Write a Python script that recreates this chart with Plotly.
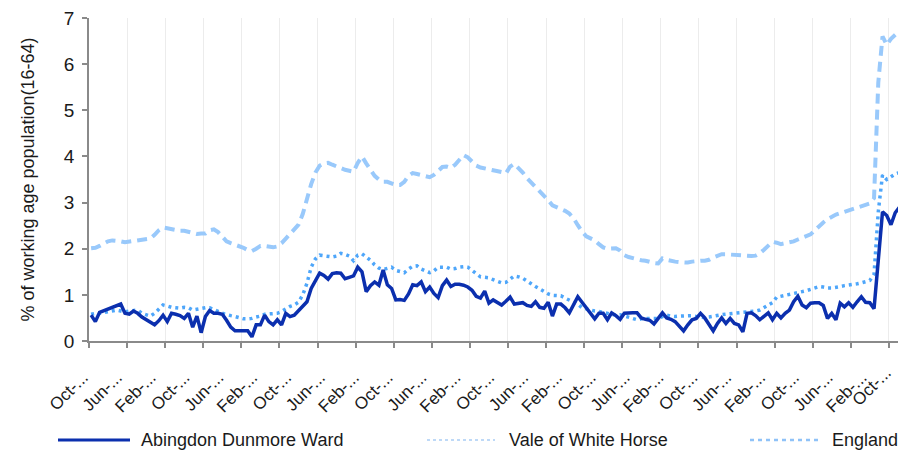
import plotly.graph_objects as go

# monthly claimant rate, Oct 2004 onwards (% of working age population)
abingdon = [
    0.56, 0.42, 0.62, 0.66, 0.69, 0.72, 0.77, 0.80, 0.60, 0.58,
    0.65, 0.60, 0.52, 0.46, 0.42, 0.35, 0.44, 0.56, 0.42, 0.60,
    0.58, 0.55, 0.49, 0.60, 0.30, 0.54, 0.18, 0.53, 0.66, 0.60,
    0.60, 0.58, 0.45, 0.30, 0.22, 0.22, 0.23, 0.22, 0.09, 0.35,
    0.35, 0.56, 0.42, 0.35, 0.46, 0.35, 0.60, 0.53, 0.56, 0.66,
    0.74, 0.85, 1.14, 1.30, 1.47, 1.42, 1.34, 1.46, 1.48, 1.47,
    1.35, 1.38, 1.41, 1.60, 1.50, 1.07, 1.20, 1.28, 1.21, 1.54,
    1.22, 1.14, 0.89, 0.90, 0.88, 1.02, 1.22, 1.20, 1.28, 1.07,
    1.17, 1.03, 0.94, 1.20, 1.32, 1.18, 1.23, 1.23, 1.21, 1.17,
    1.10, 0.97, 0.93, 1.08, 0.82, 0.89, 0.84, 0.78, 0.86, 0.95,
    0.80, 0.82, 0.83, 0.77, 0.75, 0.85, 0.73, 0.71, 0.84, 0.54,
    0.80, 0.80, 0.72, 0.61, 0.80, 0.96, 0.84, 0.72, 0.58, 0.48,
    0.60, 0.60, 0.46, 0.61, 0.55, 0.47, 0.60, 0.61, 0.61, 0.61,
    0.50, 0.47, 0.45, 0.37, 0.48, 0.61, 0.50, 0.47, 0.42, 0.33,
    0.22, 0.35, 0.46, 0.49, 0.60, 0.50, 0.35, 0.22, 0.38, 0.50,
    0.38, 0.49, 0.38, 0.35, 0.20, 0.60, 0.61, 0.55, 0.46, 0.53,
    0.61, 0.46, 0.60, 0.50, 0.60, 0.67, 0.85, 0.97, 0.78, 0.72,
    0.82, 0.83, 0.83, 0.77, 0.49, 0.60, 0.46, 0.82, 0.74, 0.83,
    0.73, 0.85, 0.96, 0.84, 0.83, 0.70, 1.80, 2.80, 2.72, 2.52,
    2.78, 2.90,
]

vale = [
    0.58, 0.60, 0.60, 0.62, 0.63, 0.65, 0.67, 0.65, 0.63, 0.65,
    0.66, 0.67, 0.60, 0.56, 0.54, 0.60, 0.70, 0.78, 0.76, 0.73,
    0.72, 0.71, 0.73, 0.72, 0.67, 0.69, 0.71, 0.72, 0.72, 0.67,
    0.64, 0.60, 0.57, 0.55, 0.53, 0.51, 0.48, 0.48, 0.49, 0.52,
    0.54, 0.58, 0.59, 0.60, 0.60, 0.64, 0.70, 0.75, 0.78, 0.84,
    1.00, 1.25, 1.60, 1.78, 1.86, 1.85, 1.84, 1.82, 1.84, 1.90,
    1.88, 1.84, 1.74, 1.86, 1.89, 1.82, 1.75, 1.65, 1.58, 1.55,
    1.58, 1.60, 1.53, 1.50, 1.48, 1.56, 1.62, 1.63, 1.56, 1.52,
    1.48, 1.52, 1.60, 1.60, 1.60, 1.56, 1.57, 1.60, 1.61, 1.60,
    1.53, 1.45, 1.39, 1.38, 1.37, 1.33, 1.30, 1.26, 1.27, 1.35,
    1.41, 1.39, 1.36, 1.30, 1.23, 1.18, 1.13, 1.07, 1.02, 0.99,
    0.98, 0.98, 0.93, 0.88, 0.84, 0.80, 0.72, 0.69, 0.66, 0.65,
    0.64, 0.62, 0.60, 0.57, 0.56, 0.57, 0.54, 0.50, 0.47, 0.46,
    0.48, 0.49, 0.49, 0.49, 0.49, 0.53, 0.56, 0.54, 0.53, 0.54,
    0.54, 0.55, 0.55, 0.53, 0.52, 0.51, 0.52, 0.54, 0.56, 0.57,
    0.58, 0.59, 0.60, 0.60, 0.61, 0.62, 0.64, 0.65, 0.67, 0.72,
    0.77, 0.83, 0.95, 0.97, 0.98, 1.00, 1.02, 1.04, 1.06, 1.09,
    1.12, 1.15, 1.18, 1.17, 1.15, 1.15, 1.16, 1.18, 1.20, 1.21,
    1.22, 1.24, 1.26, 1.28, 1.31, 1.45, 2.80, 3.60, 3.50, 3.56,
    3.62, 3.65,
]

england = [
    2.01, 2.02, 2.06, 2.12, 2.16, 2.18, 2.18, 2.16, 2.14, 2.15,
    2.17, 2.19, 2.19, 2.19, 2.22, 2.30, 2.40, 2.46, 2.44, 2.41,
    2.39, 2.39, 2.39, 2.37, 2.34, 2.32, 2.33, 2.33, 2.40, 2.42,
    2.36, 2.25, 2.16, 2.12, 2.09, 2.06, 2.02, 1.97, 1.95, 2.00,
    2.06, 2.06, 2.04, 2.03, 2.05, 2.12, 2.22, 2.32, 2.42, 2.52,
    2.75, 3.10, 3.40, 3.65, 3.80, 3.85, 3.86, 3.82, 3.78, 3.74,
    3.71, 3.69, 3.67, 3.86, 4.00, 3.85, 3.70, 3.58, 3.50, 3.45,
    3.45, 3.42, 3.38, 3.38, 3.45, 3.58, 3.64, 3.62, 3.60, 3.57,
    3.55, 3.60, 3.70, 3.77, 3.78, 3.75, 3.82, 3.92, 4.03, 3.98,
    3.90, 3.80, 3.76, 3.73, 3.72, 3.70, 3.69, 3.66, 3.63, 3.78,
    3.84, 3.75, 3.65, 3.53, 3.44, 3.34, 3.26, 3.16, 3.05, 2.94,
    2.90, 2.88, 2.82, 2.76, 2.66, 2.51, 2.37, 2.27, 2.23, 2.18,
    2.10, 2.03, 2.00, 2.01, 2.01, 1.96, 1.86, 1.82, 1.79, 1.77,
    1.75, 1.74, 1.71, 1.69, 1.68, 1.79, 1.76, 1.73, 1.72, 1.71,
    1.70, 1.70, 1.72, 1.74, 1.74, 1.74, 1.76, 1.81, 1.84, 1.88,
    1.88, 1.87, 1.86, 1.85, 1.84, 1.84, 1.84, 1.85, 1.90, 1.98,
    2.06, 2.15, 2.13, 2.10, 2.12, 2.13, 2.16, 2.20, 2.23, 2.27,
    2.31, 2.40, 2.50, 2.57, 2.64, 2.70, 2.74, 2.77, 2.80, 2.82,
    2.85, 2.88, 2.91, 2.94, 2.98, 3.10, 5.60, 6.60, 6.42, 6.55,
    6.65, 6.72,
]

tick_labels = [
    "Oct-...", "Jun-...", "Feb-...", "Oct-...", "Jun-...", "Feb-...",
    "Oct-...", "Jun-...", "Feb-...", "Oct-...", "Jun-...", "Feb-...",
    "Oct-...", "Jun-...", "Feb-...", "Oct-...", "Jun-...", "Feb-...",
    "Oct-...", "Jun-...", "Feb-...", "Oct-...", "Jun-...", "Feb-...",
    "Oct-...",
]

months = list(range(len(england)))
# a label every 8th month
label_pos = [8 * k for k in range(len(tick_labels))]

X_RANGE = [-0.5, 190.66]
FONT = "Liberation Sans, Arial, sans-serif"
AXIS_GREY = "#8a8a8a"
LABEL_SHIFT = -8

fig = go.Figure()
fig.add_trace(go.Scatter(x=months, y=england, mode="lines", name="England",
                         line=dict(color="#99c9fb", width=4, dash="10px,6px")))
fig.add_trace(go.Scatter(x=months, y=vale, mode="lines", name="Vale of White Horse",
                         line=dict(color="#4ea6fa", width=3.5, dash="3px,4px")))
fig.add_trace(go.Scatter(x=months, y=abingdon, mode="lines", name="Abingdon Dunmore Ward",
                         line=dict(color="#0b2fae", width=3.5)))

fig.update_layout(
    width=898, height=450,
    margin=dict(l=89, r=0, t=18, b=109),
    plot_bgcolor="white", paper_bgcolor="white",
    font=dict(family=FONT, size=18, color="#1a1a1a"),
    showlegend=False,
)

fig.update_xaxes(
    range=X_RANGE,
    tickmode="array", tickvals=label_pos, ticktext=tick_labels,
    tickangle=-45, ticks="", ticklabelstandoff=18, ticklabelshift=LABEL_SHIFT,
    tickfont=dict(size=17),
    showgrid=False, zeroline=False,
    showline=True, linecolor=AXIS_GREY, linewidth=1.5,
    minor=dict(tick0=-0.5, dtick=9, ticks="outside", ticklen=5,
               tickcolor=AXIS_GREY, tickwidth=1.5,
               showgrid=True, gridcolor="#ececec", gridwidth=1.3),
)
fig.update_yaxes(
    range=[0, 7], dtick=1,
    ticks="outside", ticklen=5, tickcolor=AXIS_GREY, tickwidth=1.5,
    showline=True, linecolor=AXIS_GREY, linewidth=1.5,
    showgrid=False, zeroline=False,
    tickfont=dict(size=19), ticklabelstandoff=4,
    title=dict(text="% of working age population(16-64)", font=dict(size=18), standoff=25),
)


def px_x(px):
    return (px - 89) / 809


def px_y(py):
    return (341 - py) / 323


# the last "Oct" label sits past the cropped right edge, so the axis drops it
last_pos = label_pos[-1]
fig.add_annotation(text=tick_labels[-1], xref="paper", yref="paper",
                   x=(last_pos - X_RANGE[0]) / (X_RANGE[1] - X_RANGE[0]) + (LABEL_SHIFT + 2) / 809,
                   y=px_y(361), xanchor="right", yanchor="top", textangle=-45,
                   showarrow=False, font=dict(size=17, family=FONT, color="#1a1a1a"))

# legend drawn underneath like the original (long line samples)
legend_items = [
    ("Abingdon Dunmore Ward", 58, 130, 139, dict(color="#0b2fae", width=3)),
    ("Vale of White Horse", 427, 495, 507, dict(color="#a9cdf5", width=1.5, dash="dot")),
    ("England", 750, 819, 830, dict(color="#8fc2f8", width=2.5, dash="4px,4px")),
]
for name, x0, x1, xt, style in legend_items:
    fig.add_shape(type="line", xref="paper", yref="paper",
                  x0=px_x(x0), x1=px_x(x1), y0=px_y(440), y1=px_y(440), line=style)
    fig.add_annotation(text=name, xref="paper", yref="paper", x=px_x(xt), y=px_y(440),
                       xanchor="left", yanchor="middle", showarrow=False,
                       font=dict(size=18, family=FONT, color="#1a1a1a"))

fig.write_html("out.html", config={"displayModeBar": False},
               post_script="document.body.style.margin='0';document.body.style.overflow='hidden';")
